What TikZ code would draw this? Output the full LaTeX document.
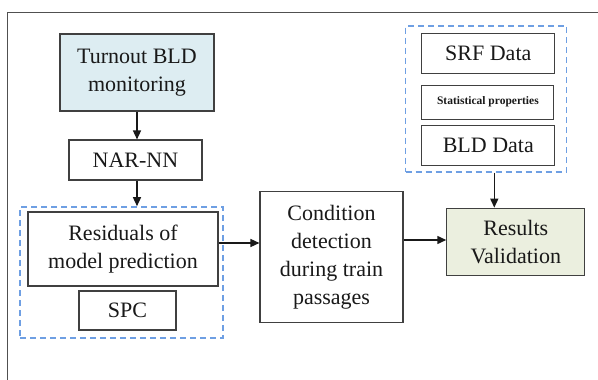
\documentclass[tikz,border=0pt]{standalone}
\usepackage{fontspec}
\setmainfont{Liberation Serif}[Ligatures=TeX]
\usetikzlibrary{arrows.meta}
\definecolor{boxline}{HTML}{404040}
\definecolor{frameline}{HTML}{505050}
\definecolor{groupline}{HTML}{6E9FE3}
\definecolor{inputfill}{HTML}{DDEDF2}
\definecolor{resultfill}{HTML}{EBEFDF}
\tikzset{
  blk/.style={draw=boxline, line width=1.1pt, inner sep=0pt, align=center,
    font=\rmfamily\fontsize{22}{28}\selectfont, text=black!90},
  grp/.style={draw=groupline, line width=1.6pt, dash pattern=on 6pt off 4pt},
  flow/.style={line width=1.5pt, draw=black!90,
    -{Triangle[length=9pt,width=8pt]}},
}
\begin{document}
\begin{tikzpicture}[x=1pt,y=-1pt]
  \useasboundingbox[fill=white] (0,0) rectangle (598,380);
  % frame
  \draw[frameline, line width=1.2pt] (7.5,380) -- (7.5,12.3) -- (598,12.3);

  % left chain
  \node[blk, fill=inputfill, minimum width=154pt, minimum height=77pt]
    (bld) at (137,72.5) {Turnout BLD\\monitoring};
  \node[blk, minimum width=133pt, minimum height=40pt]
    (nar) at (135.5,160) {NAR-NN};
  \node[grp, minimum width=203pt, minimum height=131pt, inner sep=0pt]
    (resgrp) at (121.5,272.5) {};
  \node[blk, minimum width=190pt, minimum height=74pt]
    (res) at (123,249) {Residuals of\\model prediction};
  \node[blk, minimum width=97pt, minimum height=39pt]
    (spc) at (127.5,310.5) {SPC};

  % middle
  \node[blk, minimum width=143pt, minimum height=131pt]
    (cond) at (331.5,257) {Condition\\detection\\during train\\passages};

  % right group
  \node[grp, minimum width=161pt, minimum height=146pt, inner sep=0pt]
    (datagrp) at (486,98.7) {};
  \node[blk, minimum width=133pt, minimum height=40pt]
    (srf) at (488.3,53.3) {SRF Data};
  \node[blk, minimum width=132pt, minimum height=34pt,
        font=\rmfamily\bfseries\fontsize{11.5}{13}\selectfont]
    (stat) at (487.9,102.2) {Statistical properties};
  \node[blk, minimum width=133pt, minimum height=40pt]
    (bldd) at (488.3,145.9) {BLD Data};

  % result
  \node[blk, fill=resultfill, minimum width=138pt, minimum height=67.5pt]
    (valid) at (515.8,241.9) {Results\\Validation};

  % connector anchors
  \coordinate (r1) at ([yshift=6pt]res.east);
  \coordinate (c1) at ([yshift=17pt]cond.east);
  \coordinate (d1) at ([xshift=8.3pt]datagrp.south);

  % connectors
  \draw[flow] (bld.south) -- (bld.south |- nar.north);
  \draw[flow] (bld.south |- nar.south) -- (bld.south |- resgrp.north);
  \draw[flow] (r1) -- (r1 -| cond.west);
  \draw[flow] (c1) -- (c1 -| valid.west);
  \draw[flow] (d1) -- (d1 |- valid.north);
\end{tikzpicture}
\end{document}
